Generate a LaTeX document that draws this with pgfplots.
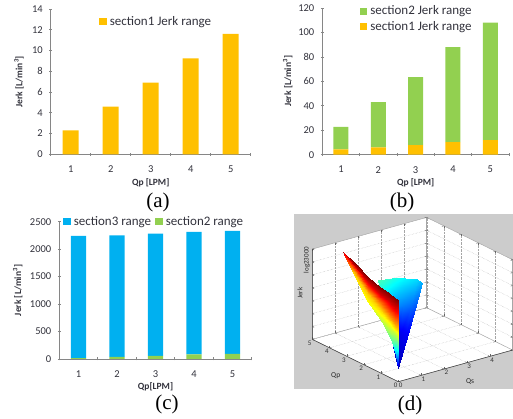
\documentclass[border=0pt]{standalone}
\usepackage{fontspec}
\setmainfont{Carlito}
\newfontfamily\capfont{Liberation Serif}
\usepackage{pgfplots}
\pgfplotsset{compat=1.18}
\definecolor{amberb}{RGB}{255,192,0}
\definecolor{greenb}{RGB}{146,208,80}
\definecolor{blueb}{RGB}{0,176,240}
\definecolor{axgray}{RGB}{134,134,134}
\definecolor{txt}{RGB}{50,50,60}
\pgfplotsset{
  barpanel/.style={
    scale only axis, ybar stacked, ymin=0,
    xmin=0.5, xmax=5.5,
    xtick={1,2,3,4,5}, major x tick style={draw=none},
    minor xtick={0.5,1.5,2.5,3.5,4.5,5.5},
    minor tick length=3pt, major tick length=3pt,
    tick align=outside,
    axis x line=bottom, axis y line=left,
    axis line style={-,draw=axgray,line width=0.6pt},
    tick style={draw=axgray,line width=0.6pt},
    ytick style={draw=axgray,line width=0.6pt},
    tick label style={font=\fontsize{10.5}{10}\selectfont,text=txt,/pgf/number format/assume math mode=true,/pgf/number format/1000 sep={}},
    xticklabel style={yshift=-6.5pt},
    yticklabel style={xshift=-3pt},
    xlabel style={font=\fontsize{9.5}{10}\selectfont\bfseries,text=txt,at={(axis description cs:0.5,0)},anchor=center,yshift=-28pt},
    ylabel style={font=\fontsize{9.5}{10}\selectfont\bfseries,text=txt},
    legend cell align=left,
    area legend,
    legend image code/.code={\fill[#1] (0cm,-3.4pt) rectangle (7.7pt,3.4pt);},
    legend style={draw=none,fill=none,font=\fontsize{13}{14}\selectfont\color{txt},inner sep=0pt,outer sep=0pt,
      nodes={inner sep=1pt},/tikz/every odd column/.style={column sep=2pt}},
  },
  barfill/.style={fill=#1,draw=none},
}
\begin{document}
\begin{tikzpicture}[x=1pt,y=1pt]
\useasboundingbox (0,0) rectangle (513,419);
% ---------- (a)
\begin{axis}[barpanel, at={(50.7pt,264.7pt)}, anchor=south west, width=200pt, height=145.3pt,
  ymax=14, ytick={0,2,...,14}, bar width=16pt,
  xlabel={Qp [LPM]},
  ylabel={Jerk [L/min\textsuperscript{3}]}, ylabel style={at={(axis description cs:-0.158,0.5)},anchor=center},
  legend style={at={(axis cs:1.71,13.4)},anchor=north west}]
\addplot+[barfill=amberb] coordinates {(1,2.3) (2,4.6) (3,6.9) (4,9.25) (5,11.6)};
\addlegendentry{section1 Jerk range}
\end{axis}
% ---------- (b)
\begin{axis}[barpanel, at={(322.3pt,264.3pt)}, anchor=south west, width=186.7pt, height=146.7pt,
  ymax=120, ytick={0,20,...,120}, bar width=15pt,
  xlabel={Qp [LPM]},
  ylabel={Jerk [L/min\textsuperscript{3}]}, ylabel style={at={(axis description cs:-0.185,0.5)},anchor=center},
  reverse legend,
  legend style={at={(axis cs:1.5,122.5)},anchor=north west,row sep=3pt}]
\addplot+[barfill=amberb] coordinates {(1,4.3) (2,6) (3,7.8) (4,10.3) (5,12)};
\addlegendentry{section1 Jerk range}
\addplot+[barfill=greenb] coordinates {(1,18.4) (2,37) (3,55.7) (4,77.7) (5,96)};
\addlegendentry{section2 Jerk range}
\end{axis}
% ---------- (c)
\begin{axis}[barpanel, at={(59.3pt,60pt)}, anchor=south west, width=192.4pt, height=137.3pt,
  ymax=2500, ytick={0,500,...,2500}, bar width=15.3pt,
  xlabel={Qp[LPM]},
  ylabel={Jerk [L/min\textsuperscript{3}]}, ylabel style={at={(axis description cs:-0.216,0.5)},anchor=center},
  reverse legend,
  legend columns=2,
  legend style={at={(axis cs:0.6,2615)},anchor=north west,/tikz/every even column/.style={column sep=3pt}}]
\addplot+[barfill=greenb] coordinates {(1,15) (2,40) (3,55) (4,85) (5,95)};
\addlegendentry{section2 range}
\addplot+[barfill=blueb] coordinates {(1,2225) (2,2210) (3,2230) (4,2230) (5,2240)};
\addlegendentry{section3 range}
\end{axis}
% ---------- (d)
\fill[black!20] (294,29.7) rectangle (512.7,205);
\begin{axis}[at={(398.3pt,37.3pt)}, anchor=origin,
  x={(22.87pt,6.33pt)}, y={(-17.2pt,8.47pt)}, z={(0pt,12.9pt)},
  xmin=0,xmax=5,ymin=0,ymax=5,zmin=0,zmax=7,
  xtick={0,1,2,3,4}, ytick={0,1,2,3,4,5}, ztick={0,1,...,7}, zticklabels={},
  grid=major, grid style={densely dotted,black!35,line width=0.3pt},
  axis background/.style={fill=white},
  axis line style={draw=black!35,line width=0.4pt},
  tick style={draw=black!60,line width=0.4pt},
  major tick length=2pt,
  tick label style={font=\fontsize{7}{7}\selectfont,text=black!80,/pgf/number format/assume math mode=true,inner sep=1pt},
  colormap/jet, point meta min=0, point meta max=1, clip=false]
\addplot3[draw=black!75,line width=0.5pt,no marks] coordinates {(0,5,7) (0,5,0) (0,0,0) (5,0,0)};
\addplot3[surf, shader=interp, mesh/rows=4, point meta=\thisrow{c}] table {
Qs Qp z c
0 0 1.034 0.05
0 0 1.034 0.05
0 0 1.034 0.05
0 0 1.034 0.05
0 0 1.034 0.05
1.623 1.6 1.822 0.12
1.524 1.6 2.005 0.12
1.320 1.6 2.147 0.11
1.087 1.6 2.241 0.10
0.854 1.6 2.304 0.10
2.841 2.8 2.413 0.20
2.667 2.8 2.734 0.23
2.310 2.8 2.981 0.25
1.902 2.8 3.146 0.27
1.494 2.8 3.256 0.30
4.058 4 3.005 0.29
3.810 4 3.463 0.34
3.300 4 3.817 0.37
2.717 4 4.051 0.41
2.134 4 4.208 0.45
};
\addplot3[surf, shader=interp, mesh/rows=7, point meta=\thisrow{c}] table {
Qs Qp z c
1.343 4.945 6.018 0.88
1.348 4.964 6.050 0.90
1.352 4.979 6.077 0.92
1.356 4.994 6.103 0.96
1.360 5.000 6.124 1.00
1.112 4.096 5.165 0.66
1.093 4.023 5.431 0.72
1.076 3.962 5.651 0.84
1.060 3.902 5.876 0.93
1.046 3.853 6.054 1.00
0.742 2.731 4.047 0.62
0.742 2.731 4.628 0.68
0.742 2.731 5.112 0.80
0.742 2.731 5.597 0.92
0.742 2.731 5.984 1.00
0.412 1.517 3.453 0.56
0.424 1.563 4.231 0.66
0.435 1.600 4.880 0.78
0.445 1.638 5.528 0.92
0.453 1.669 6.047 1.00
0.165 0.607 2.622 0.46
0.185 0.680 3.704 0.60
0.201 0.740 4.605 0.76
0.218 0.801 5.507 0.92
0.231 0.850 6.228 1.00
0.058 0.212 1.899 0.30
0.065 0.240 3.211 0.52
0.071 0.262 4.304 0.72
0.077 0.285 5.398 0.90
0.082 0.303 6.272 1.00
0.000 0.000 1.034 0.05
0.005 0.018 2.608 0.42
0.009 0.033 3.921 0.66
0.013 0.049 5.233 0.86
0.016 0.061 6.283 1.00
};
\end{axis}
\node[font=\fontsize{7}{8}\selectfont,rotate=90,text=black!85] at (306.7,159) {log23000};
\node[font=\fontsize{7}{8}\selectfont,rotate=90,text=black!85] at (300,125.7) {Jerk};
\node[font=\fontsize{7.5}{8}\selectfont,text=black!85] at (335.7,43.3) {Qp};
\node[font=\fontsize{7.5}{8}\selectfont,text=black!85] at (470,37.3) {Qs};
% captions
\node[font=\capfont\fontsize{21}{21}\selectfont] at (158,217) {(a)};
\node[font=\capfont\fontsize{21}{21}\selectfont] at (402,217) {(b)};
\node[font=\capfont\fontsize{21}{21}\selectfont] at (167,15) {(c)};
\node[font=\capfont\fontsize{21}{21}\selectfont] at (410,14) {(d)};
\end{tikzpicture}
\end{document}
